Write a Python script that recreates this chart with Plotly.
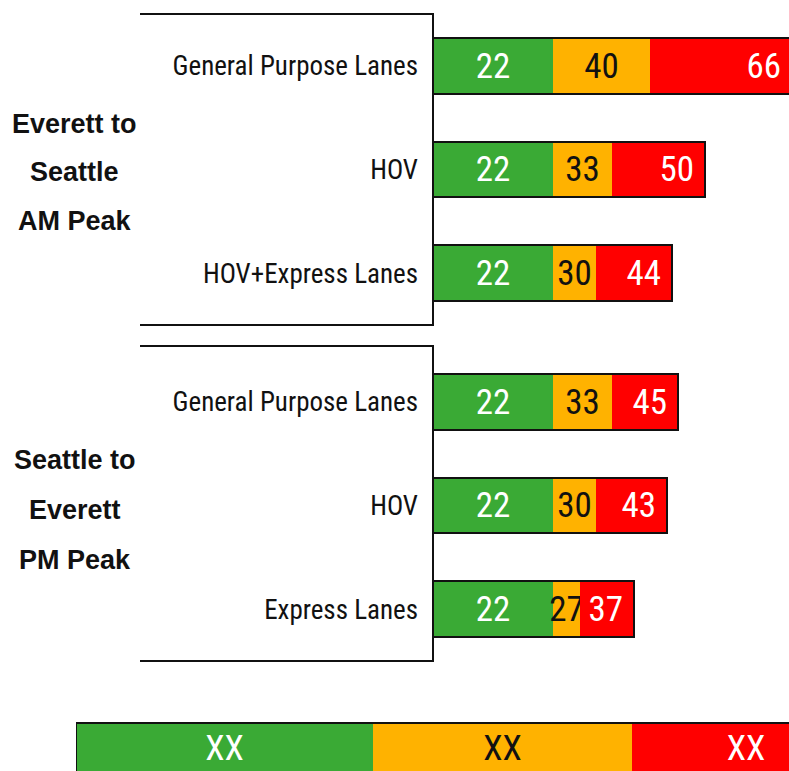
import plotly.graph_objects as go

# Travel-time thresholds per lane type (cumulative minutes)
lanes_am = ["General Purpose Lanes", "HOV", "HOV+Express Lanes"]
green_am = [22, 22, 22]
orange_am = [40, 33, 30]
red_am = [66, 50, 44]

lanes_pm = ["General Purpose Lanes", "HOV", "Express Lanes"]
green_pm = [22, 22, 22]
orange_pm = [33, 30, 27]
red_pm = [45, 43, 37]

group_titles = [["Everett to", "Seattle", "AM Peak"],
                ["Seattle to", "Everett", "PM Peak"]]

key_labels = ["XX", "XX", "XX"]
key_widths = [54, 47, 41.5]

GREEN = "#3AAA35"
ORANGE = "#FFB200"
RED = "#FF0000"
INK = "#111111"
NARROW = "Roboto Condensed, Liberation Sans Narrow, sans-serif"
SANS = "Liberation Sans, Arial, Helvetica, sans-serif"

W, H = 789, 771


def px(x):
    return x / W


def py(y):
    return 1 - y / H


fig = go.Figure()


def add_group(lanes, g, o, r, xa, ya):
    segs = [
        ([0] * len(g), g, g, GREEN, "white", "middle", "%{text}"),
        (g, [b - a for a, b in zip(g, o)], o, ORANGE, INK, "middle", "%{text}"),
        (o, [b - a for a, b in zip(o, r)], r, RED, "white", "end", "%{text}\u00a0"),
    ]
    for base, width, labels, color, tcol, anchor, tmpl in segs:
        fig.add_trace(go.Bar(
            y=lanes, x=width, base=base, orientation="h",
            xaxis=xa, yaxis=ya, width=0.54,
            marker=dict(color=color, line=dict(width=0)),
            text=labels, texttemplate=tmpl,
            textposition="inside", insidetextanchor=anchor,
            textangle=0, constraintext="none",
            textfont=dict(family=NARROW, size=35, color=tcol),
            hoverinfo="skip", showlegend=False,
        ))
    # outline around each whole bar
    fig.add_trace(go.Bar(
        y=lanes, x=r, base=[0] * len(r), orientation="h",
        xaxis=xa, yaxis=ya, width=0.54,
        marker=dict(color="rgba(0,0,0,0)", line=dict(color=INK, width=2)),
        hoverinfo="skip", showlegend=False,
    ))


add_group(lanes_am, green_am, orange_am, red_am, "x", "y")
add_group(lanes_pm, green_pm, orange_pm, red_pm, "x2", "y2")

# colour key strip along the bottom
key_base = [sum(key_widths[:i]) for i in range(len(key_widths))]
key_colors = [GREEN, ORANGE, RED]
key_text = ["white", INK, "white"]
for b, w, lab, c, tc in zip(key_base, key_widths, key_labels, key_colors, key_text):
    fig.add_trace(go.Bar(
        y=[0], x=[w], base=[b], orientation="h", xaxis="x3", yaxis="y3",
        width=1, marker=dict(color=c, line=dict(width=0)),
        text=[lab], textposition="inside", insidetextanchor="middle",
        textangle=0, constraintext="none",
        textfont=dict(family=NARROW, size=35, color=tc),
        hoverinfo="skip", showlegend=False,
    ))
fig.add_trace(go.Bar(
    y=[0], x=[sum(key_widths)], base=[0], orientation="h",
    xaxis="x3", yaxis="y3", width=1,
    marker=dict(color="rgba(0,0,0,0)", line=dict(color=INK, width=2)),
    hoverinfo="skip", showlegend=False,
))

x_dom = [px(433), 1]
x_rng = [0, 65.5]
ycat = dict(type="category", autorange="reversed", showgrid=False,
            zeroline=False, showline=False, ticks="",
            ticklabelstandoff=14,
            tickfont=dict(family=NARROW, size=27, color=INK))

fig.update_layout(
    width=W, height=H,
    margin=dict(l=0, r=0, t=0, b=0),
    paper_bgcolor="white", plot_bgcolor="rgba(0,0,0,0)",
    barmode="overlay", bargap=0,
    xaxis=dict(domain=x_dom, range=x_rng, visible=False, anchor="y"),
    xaxis2=dict(domain=x_dom, range=x_rng, visible=False, anchor="y2"),
    xaxis3=dict(domain=[px(76), 1], range=[0, 713 / 5.5], visible=False, anchor="y3"),
    yaxis=dict(domain=[py(325), py(14)], anchor="x",
               categoryorder="array", categoryarray=lanes_am, **ycat),
    yaxis2=dict(domain=[py(661), py(350)], anchor="x2",
                categoryorder="array", categoryarray=lanes_pm, **ycat),
    yaxis3=dict(domain=[0, py(721)], range=[-0.46, 0.54], visible=False,
                anchor="x3", fixedrange=True),
)

# bracket frames around each group
for top, bottom in [(14, 325), (346, 661)]:
    fig.add_shape(type="path", xref="paper", yref="paper",
                  path=(f"M {px(140)},{py(top)} L {px(433)},{py(top)} "
                        f"L {px(433)},{py(bottom)} L {px(140)},{py(bottom)}"),
                  line=dict(color=INK, width=2))

# group titles, one annotation per line
for lines, ys in zip(group_titles, [(124, 172, 221), (460, 510, 560)]):
    for txt, yy in zip(lines, ys):
        fig.add_annotation(x=px(74.5), y=py(yy), xref="paper", yref="paper",
                           text=txt, showarrow=False,
                           xanchor="center", yanchor="middle",
                           font=dict(family=SANS, size=27, color=INK,
                                     weight="bold"))

fig.write_html("out.html")
